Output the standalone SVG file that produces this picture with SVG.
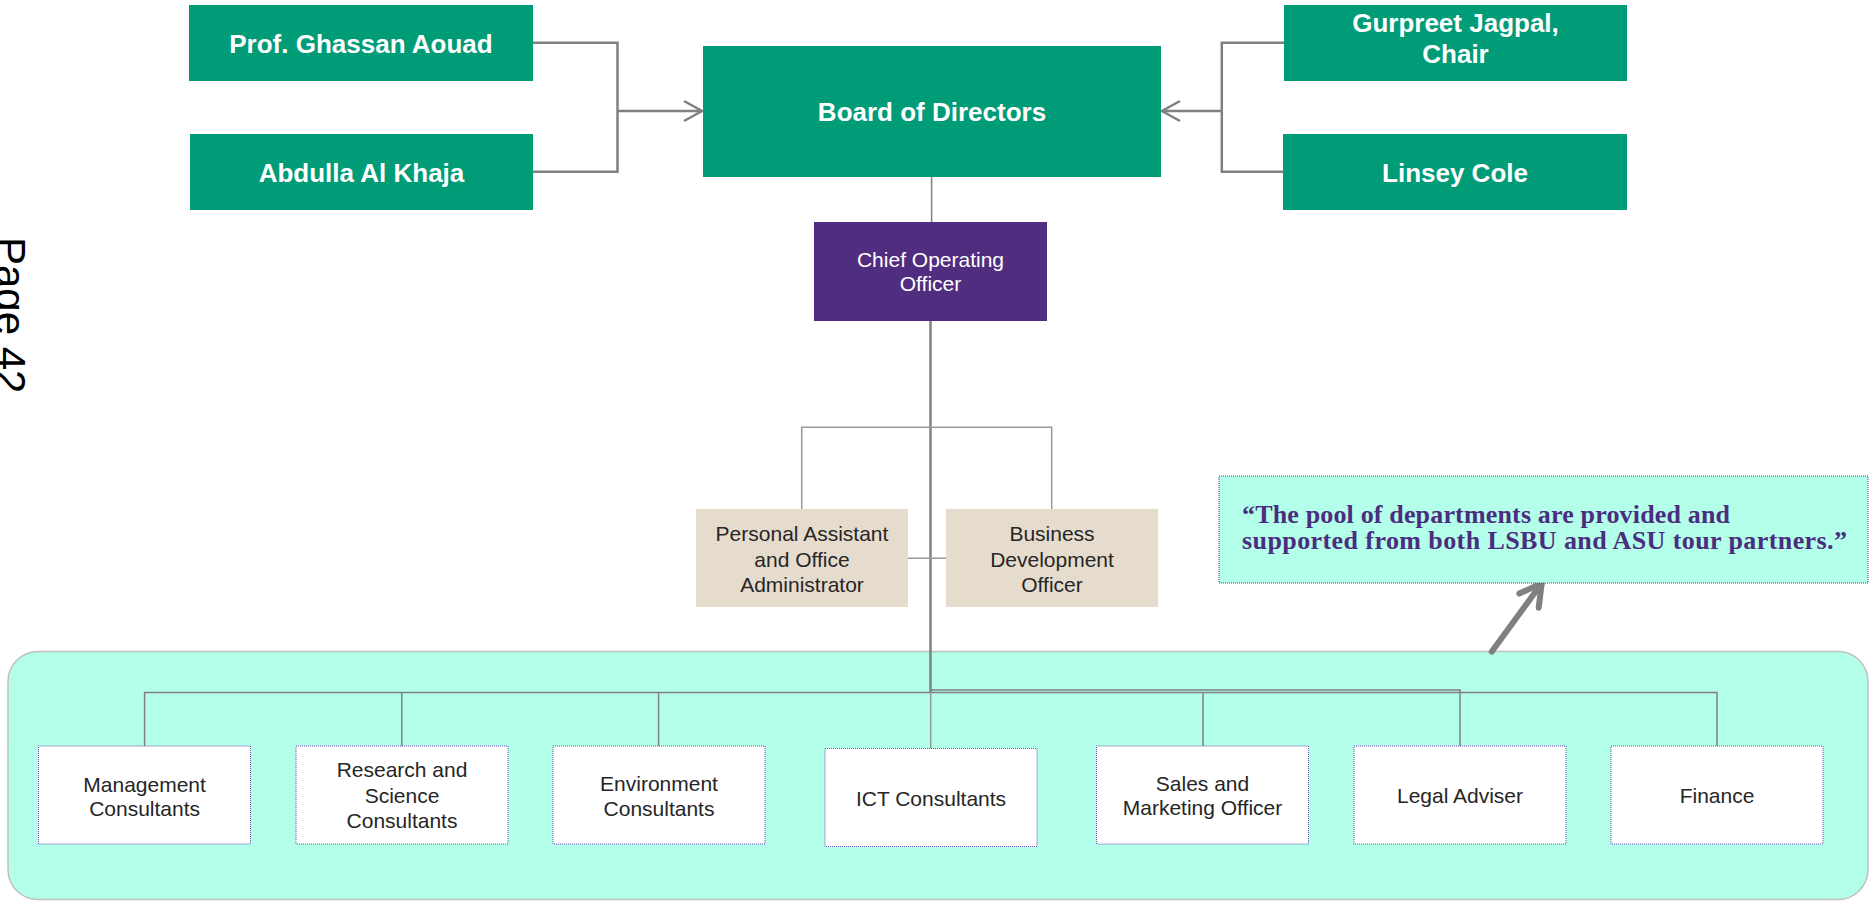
<svg xmlns="http://www.w3.org/2000/svg" width="1873" height="902" viewBox="0 0 1873 902">
<style>
.green{fill:#009B77}
.wt{font-family:"Liberation Sans",Arial,sans-serif;font-weight:bold;font-size:26px;fill:#fff;text-anchor:middle}
.coo{fill:#512D7F}
.cooT{font-family:"Liberation Sans",Arial,sans-serif;font-size:21px;fill:#fff;text-anchor:middle}
.beige{fill:#E6DCCD}
.dk{font-family:"Liberation Sans",Arial,sans-serif;font-size:21px;fill:#262626;text-anchor:middle}
.wbox{fill:#fff;stroke:#6A4FB0;stroke-width:1;stroke-dasharray:1 1}
.ln{fill:none;stroke:#808080}
.thick{stroke-width:2.5}
.thin{stroke-width:1.5}
.lt{fill:none;stroke:#999;stroke-width:1.5}
.q{font-family:"Liberation Serif","Times New Roman",serif;font-weight:bold;font-size:26px;fill:#4B2D7F}
</style>
<defs>
<marker id="chev" markerUnits="userSpaceOnUse" markerWidth="30" markerHeight="30" viewBox="-25 -15 30 30" refX="0" refY="0" orient="auto" overflow="visible">
<path d="M-18,-10 L0,0 L-18,10" fill="none" stroke="#808080" stroke-width="2.5"/>
</marker>
<marker id="bigchev" markerUnits="userSpaceOnUse" markerWidth="40" markerHeight="40" viewBox="-30 -20 40 40" refX="0" refY="0" orient="auto" overflow="visible">
<path d="M-21.5,-12 L0,0 L-21.5,12" fill="none" stroke="#808080" stroke-width="6" stroke-linecap="round" stroke-linejoin="round"/>
</marker>
</defs>
<rect width="1873" height="902" fill="#fff"/>

<text id="page" transform="translate(-4,237) rotate(90)" font-family="'Liberation Sans',Arial,sans-serif" font-size="42" fill="#000">Page 42</text>

<g id="pool">
<rect x="8" y="651.5" width="1860" height="248" rx="30" ry="30" fill="#B4FFEA" stroke="#C0C0C0" stroke-width="1.5"/>
</g>

<g id="connectors">
<path class="ln thick" d="M533,42.7 H617.5 V171.7 H533"/>
<path class="ln thick" d="M617.5,111 H702" marker-end="url(#chev)"/>
<path class="ln thick" d="M1284,42.7 H1221.8 V171.7 H1283"/>
<path class="ln thick" d="M1221.8,111 H1162" marker-end="url(#chev)"/>
<path class="ln thin" d="M931.6,177 V222"/>
<path class="ln thick" d="M930.5,321 V692.5"/>
<path class="lt" d="M801.7,509 V427.3 H1051.7 V509"/>
<path class="lt" d="M907.7,558.3 H946"/>
<path class="ln thin" d="M144.6,746 V692.5 H1717 V746"/>
<path class="ln thin" d="M401.8,692.5 V746 M658.6,692.5 V746 M1203,692.5 V746"/>
<path class="ln thin" d="M930.5,690 H1460 V746"/>
<path class="lt" d="M930.7,692 V748.5"/>
<path d="M1491.7,651.7 L1541.7,583.3" fill="none" stroke="#808080" stroke-width="6" stroke-linecap="round" marker-end="url(#bigchev)"/>
</g>

<g id="prof"><rect class="green" x="189" y="5" width="344" height="76"/><text class="wt" x="361" y="53">Prof. Ghassan Aouad</text></g>
<g id="abdulla"><rect class="green" x="190" y="134" width="343" height="76"/><text class="wt" x="361.5" y="181.5">Abdulla Al Khaja</text></g>
<g id="board"><rect class="green" x="703" y="46" width="458" height="131"/><text class="wt" x="932" y="120.5">Board of Directors</text></g>
<g id="gurpreet"><rect class="green" x="1284" y="5" width="343" height="76"/><text class="wt" x="1455.5" y="31.7">Gurpreet Jagpal,</text><text class="wt" x="1455.5" y="63.3">Chair</text></g>
<g id="linsey"><rect class="green" x="1283" y="134" width="344" height="76"/><text class="wt" x="1455" y="181.5">Linsey Cole</text></g>

<g id="coo"><rect class="coo" x="814" y="222" width="233" height="99"/><text class="cooT" x="930.5" y="266.7">Chief Operating</text><text class="cooT" x="930.5" y="290.7">Officer</text></g>

<g id="pa"><rect class="beige" x="696" y="509" width="212" height="98"/><text class="dk" x="802" y="540.7">Personal Assistant</text><text class="dk" x="802" y="566.7">and Office</text><text class="dk" x="802" y="591.7">Administrator</text></g>
<g id="bd"><rect class="beige" x="946" y="509" width="212" height="98"/><text class="dk" x="1052" y="540.7">Business</text><text class="dk" x="1052" y="566.7">Development</text><text class="dk" x="1052" y="591.7">Officer</text></g>

<g id="quote"><rect x="1219" y="476" width="649" height="107" fill="#B4FFEA" stroke="#4A3C8C" stroke-width="1" stroke-dasharray="1 1"/>
<text class="q" x="1242" y="522.7" textLength="488" lengthAdjust="spacing">“The pool of departments are provided and</text>
<text class="q" x="1242" y="549.3" textLength="605" lengthAdjust="spacing">supported from both LSBU and ASU tour partners.”</text></g>

<g id="mgmt"><rect class="wbox" x="38.5" y="746" width="212" height="98"/><text class="dk" x="144.6" y="791.7">Management</text><text class="dk" x="144.6" y="815.7">Consultants</text></g>
<g id="research"><rect class="wbox" x="296" y="746" width="212" height="98"/><text class="dk" x="402" y="777.3">Research and</text><text class="dk" x="402" y="803.3">Science</text><text class="dk" x="402" y="828.3">Consultants</text></g>
<g id="env"><rect class="wbox" x="553" y="746" width="212" height="98"/><text class="dk" x="659" y="790.7">Environment</text><text class="dk" x="659" y="815.7">Consultants</text></g>
<g id="ict"><rect class="wbox" x="825" y="748.5" width="212" height="98"/><text class="dk" x="931" y="805.7">ICT Consultants</text></g>
<g id="sales"><rect class="wbox" x="1096.5" y="746" width="212" height="98"/><text class="dk" x="1202.5" y="790.7">Sales and</text><text class="dk" x="1202.5" y="815">Marketing Officer</text></g>
<g id="legal"><rect class="wbox" x="1354" y="746" width="212" height="98"/><text class="dk" x="1460" y="803.3">Legal Adviser</text></g>
<g id="finance"><rect class="wbox" x="1611" y="746" width="212" height="98"/><text class="dk" x="1717" y="803.3">Finance</text></g>
</svg>
